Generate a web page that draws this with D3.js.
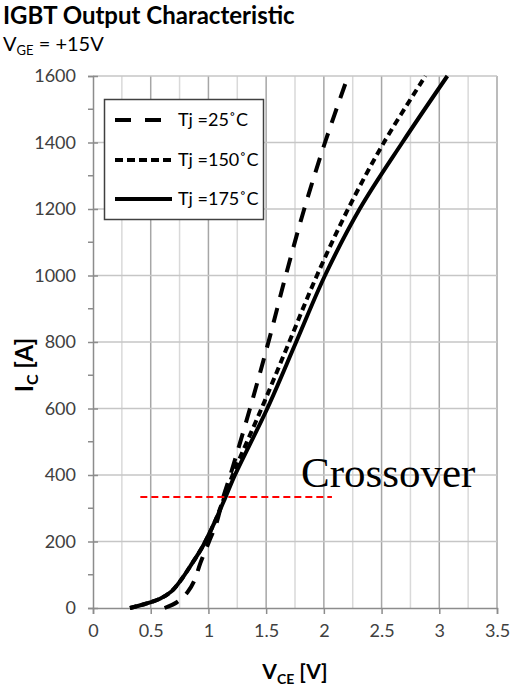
<!DOCTYPE html>
<html>
<head>
<meta charset="utf-8">
<script src="https://cdn.jsdelivr.net/npm/d3@7"></script>
<style>
  html, body { margin: 0; padding: 0; background: #fff; }
  svg { display: block; }
</style>
</head>
<body>
<div id="chart"></div>
<script>
// ---- data ----
const titleText = "IGBT Output Characteristic";
const xTicks = [0, 0.5, 1, 1.5, 2, 2.5, 3, 3.5];
const yTicks = [0, 200, 400, 600, 800, 1000, 1200, 1400, 1600];
const seriesNames = ["Tj =25˚C", "Tj =150˚C", "Tj =175˚C"];

const vce25  = [0.62, 0.73, 0.82, 0.88, 0.93, 1.00, 1.07, 1.13, 1.19, 1.36, 1.52, 1.67, 1.83, 2.01, 2.21];
const ic25   = [0,    18,   48,   84,   135,  195,  256,  335,  400,  600,  800,  1000, 1200, 1400, 1600];

const vce150 = [0.32, 0.45, 0.58, 0.68, 0.77, 0.86, 0.95, 1.05, 1.14, 1.21, 1.46, 1.70, 1.94, 2.21, 2.52, 2.88];
const ic150  = [0,    12,   28,   50,   88,   135,  185,  255,  335,  400,  600,  800,  1000, 1200, 1400, 1600];

const vce175 = [0.32, 0.45, 0.58, 0.68, 0.77, 0.86, 0.95, 1.05, 1.15, 1.23, 1.51, 1.76, 2.01, 2.31, 2.68, 3.07];
const ic175  = [0,    12,   28,   50,   88,   135,  185,  255,  335,  400,  600,  800,  1000, 1200, 1400, 1600];

const crossoverV = [0.41, 2.07];
const crossoverI = 334;

// ---- chart ----
const W = 511, H = 692;
const svg = d3.select("#chart").append("svg").attr("width", W).attr("height", H);
svg.append("rect").attr("width", W).attr("height", H).attr("fill", "#fff");

const x = d3.scaleLinear().domain([0, 3.5]).range([93, 497]);
const y = d3.scaleLinear().domain([0, 1600]).range([608, 76]);

const font = "Lato, 'Open Sans', sans-serif";

// gridlines
const vMinor = d3.range(0.25, 3.5, 0.5);
const vMajor = d3.range(0.5, 3.51, 0.5);
svg.append("g").selectAll("line").data(vMinor).join("line")
  .attr("x1", d => x(d)).attr("x2", d => x(d))
  .attr("y1", y(0)).attr("y2", y(1600))
  .attr("stroke", "#d9d9d9").attr("stroke-width", 1.5);
svg.append("g").selectAll("line").data(vMajor).join("line")
  .attr("x1", d => x(d)).attr("x2", d => x(d))
  .attr("y1", y(0)).attr("y2", y(1600))
  .attr("stroke", "#a6a6a6").attr("stroke-width", 1.5);
svg.append("g").selectAll("line").data(yTicks.filter(d => d > 0)).join("line")
  .attr("x1", x(0)).attr("x2", x(3.5))
  .attr("y1", d => y(d)).attr("y2", d => y(d))
  .attr("stroke", "#c6c6c6").attr("stroke-width", 1.5);

// axes
const xAxis = d3.axisBottom(x).tickValues(xTicks).tickSize(6).tickPadding(10)
  .tickFormat(d => String(d));
const gx = svg.append("g").attr("transform", `translate(0,${y(0)})`).call(xAxis);
gx.select(".domain").attr("stroke", "#8c8c8c").attr("stroke-width", 1.5);
gx.selectAll(".tick line").attr("stroke", "#8c8c8c").attr("stroke-width", 1.5);
gx.selectAll("text").attr("font-family", font).attr("font-size", 18).attr("fill", "#404040");

const yAxis = d3.axisLeft(y).tickValues(yTicks).tickSize(5).tickPadding(12)
  .tickFormat(d => String(d));
const gy = svg.append("g").attr("transform", `translate(${x(0)},0)`).call(yAxis);
gy.select(".domain").attr("stroke", "#8c8c8c").attr("stroke-width", 1.5);
gy.selectAll(".tick line").attr("stroke", "#8c8c8c").attr("stroke-width", 1.5).attr("x2", -5).attr("x1", 5);
gy.selectAll("text").attr("font-family", font).attr("font-size", 18).attr("fill", "#404040");
// minor y ticks
svg.append("g").selectAll("line").data(d3.range(100, 1600, 200)).join("line")
  .attr("x1", x(0) - 5).attr("x2", x(0))
  .attr("y1", d => y(d)).attr("y2", d => y(d))
  .attr("stroke", "#8c8c8c").attr("stroke-width", 1.5);

// curves
const series = [
  { v: vce25,  i: ic25,  dash: "15,11" },
  { v: vce150, i: ic150, dash: "7,4.5" },
  { v: vce175, i: ic175, dash: null }
];
const line = d3.line().x(d => x(d[0])).y(d => y(d[1])).curve(d3.curveCatmullRom.alpha(0.5));
series.forEach(s => {
  const pts = s.v.map((v, k) => [v, s.i[k]]);
  svg.append("path").datum(pts).attr("d", line)
    .attr("fill", "none").attr("stroke", "#000").attr("stroke-width", 4)
    .attr("stroke-dasharray", s.dash);
});

// crossover line and label
svg.append("line")
  .attr("x1", x(crossoverV[0])).attr("x2", x(crossoverV[1]))
  .attr("y1", y(crossoverI)).attr("y2", y(crossoverI))
  .attr("stroke", "#ff0000").attr("stroke-width", 2).attr("stroke-dasharray", "7,4");
svg.append("text").attr("x", 301).attr("y", 487)
  .attr("font-family", "'Liberation Serif', 'Times New Roman', serif")
  .attr("font-size", 43).attr("fill", "#000").text("Crossover");

// legend
const lg = svg.append("g");
lg.append("rect").attr("x", 104.5).attr("y", 99.5).attr("width", 159).attr("height", 120)
  .attr("fill", "#fff").attr("stroke", "#404040").attr("stroke-width", 1.5);
const rowY = [120, 160, 199];
series.forEach((s, k) => {
  lg.append("line").attr("x1", 115).attr("x2", 172).attr("y1", rowY[k]).attr("y2", rowY[k])
    .attr("stroke", "#000").attr("stroke-width", 4)
    .attr("stroke-dasharray", k === 0 ? "16,14" : (k === 1 ? "8,4" : null));
  lg.append("text").attr("x", 178).attr("y", rowY[k] + 6)
    .attr("font-family", font).attr("font-size", 18).attr("fill", "#000")
    .text(seriesNames[k]);
});

// titles
svg.append("text").attr("x", 3).attr("y", 24)
  .attr("font-family", font).attr("font-weight", "bold").attr("font-size", 24)
  .attr("fill", "#000").text(titleText);
const sub = svg.append("text").attr("x", 3).attr("y", 51)
  .attr("font-family", font).attr("font-size", 20).attr("fill", "#000");
sub.append("tspan").text("V");
sub.append("tspan").attr("font-size", 13).attr("dy", 4).text("GE");
sub.append("tspan").attr("dy", -4).text(" = +15V");

// axis titles
const xt = svg.append("text").attr("x", (x(0) + x(3.5)) / 2).attr("y", 679)
  .attr("text-anchor", "middle").attr("font-family", font).attr("font-weight", "bold")
  .attr("font-size", 21).attr("fill", "#000");
xt.append("tspan").text("V");
xt.append("tspan").attr("font-size", 14).attr("dy", 5).text("CE");
xt.append("tspan").attr("dy", -5).text(" [V]");

const yt = svg.append("text")
  .attr("transform", "translate(33,365) rotate(-90)")
  .attr("text-anchor", "middle").attr("font-family", font).attr("font-weight", "bold")
  .attr("font-size", 24).attr("fill", "#000");
yt.append("tspan").text("I");
yt.append("tspan").attr("font-size", 16).attr("dy", 5).text("C");
yt.append("tspan").attr("dy", -5).text(" [A]");
</script>
</body>
</html>
